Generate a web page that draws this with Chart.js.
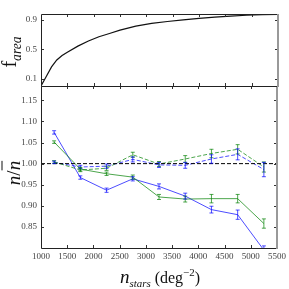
<!DOCTYPE html>
<html><head><meta charset="utf-8">
<script src="https://cdn.jsdelivr.net/npm/chart.js@4"></script>
<style>
html,body{margin:0;padding:0;background:#fff;}
#wrap{position:relative;width:289px;height:289px;overflow:hidden;background:#fff;}
.cv{position:absolute;left:0;top:0;}
.lbl{position:absolute;font-family:"Liberation Serif","DejaVu Serif",serif;color:#111;white-space:nowrap;line-height:1;}
.lbl sub,.lbl sup{font-size:68%;line-height:0;}
</style></head><body>
<div id="wrap">
<div class="cv" style="width:289px;height:289px"><canvas id="c2" width="289" height="289"></canvas></div>
<div class="cv" style="width:289px;height:100px"><canvas id="c1" width="289" height="100"></canvas></div>
<div class="lbl" id="ylab1" style="left:9px;top:52px;font-size:20px;transform:translate(-50%,-50%) rotate(-90deg);">f<sub><i>area</i></sub></div>
<div class="lbl" id="ylab2" style="left:13px;top:173px;font-size:19px;transform:translate(-50%,-50%) rotate(-90deg);"><i>n</i>/<i style="text-decoration:overline">n</i></div>
<div class="lbl" id="xlab" style="left:160px;top:276px;font-size:16px;transform:translate(-50%,-50%);"><i style="font-size:19px">n</i><sub><i>stars</i></sub> (deg<sup>−2</sup>)</div>
</div>
<script>
// ---- data ----
const areaN = [1000,1100,1200,1300,1400,1500,1700,1900,2100,2300,2500,2800,3100,3400,3700,4000,4300,4600,4900,5200,5500];
const areaF = [0.0,0.13,0.26,0.355,0.415,0.46,0.543,0.612,0.67,0.715,0.76,0.815,0.852,0.878,0.9,0.92,0.938,0.952,0.963,0.971,0.976];
const areaTicks = [0.1,0.5,0.9];

const binN = [1250,1750,2250,2750,3250,3750,4250,4750,5250];
const blueSolid = [1.074,0.967,0.937,0.964,0.946,0.923,0.891,0.879,0.795];
const blueSolidErr = [0.004,0.004,0.005,0.005,0.006,0.007,0.008,0.011,0.010];
const greenSolid = [1.051,0.987,0.976,0.968,0.921,0.916,0.917,0.917,0.858];
const greenSolidErr = [0.003,0.004,0.004,0.005,0.006,0.007,0.010,0.010,0.011];
const blueDashed = [1.003,0.992,0.994,1.010,0.997,0.996,1.011,1.022,0.986];
const blueDashedErr = [0.003,0.004,0.005,0.006,0.006,0.007,0.010,0.013,0.017];
const greenDashed = [1.004,0.985,0.989,1.021,0.999,1.011,1.024,1.034,0.992];
const greenDashedErr = [0.003,0.004,0.005,0.006,0.006,0.008,0.010,0.011,0.012];
const ratioTicks = [0.85,0.90,0.95,1.00,1.05,1.10,1.15];
const xTicks = [1000,1500,2000,2500,3000,3500,4000,4500,5000,5500];
const refLevel = 1.0;

const BLUE = 'rgba(0,0,255,0.7)';
const GREEN = 'rgba(0,128,0,0.7)';
const FONT = {family:'"Liberation Serif","DejaVu Serif",serif', size:9};
const TICKCOL = '#444';

function decor(opts){
  return {
    id:'decor',
    afterDatasetsDraw(chart){
      const ctx = chart.ctx, a = chart.chartArea, xs = chart.scales.x, ys = chart.scales.y;
      ctx.save();
      if (opts.ref !== undefined){
        ctx.beginPath();
        ctx.setLineDash([4,2]);
        ctx.strokeStyle = '#000'; ctx.lineWidth = 1;
        const yy = ys.getPixelForValue(opts.ref);
        ctx.moveTo(a.left, yy); ctx.lineTo(a.right, yy); ctx.stroke();
        ctx.setLineDash([]);
      }
      ctx.beginPath(); ctx.rect(a.left, a.top, a.right-a.left, a.bottom-a.top); ctx.clip();
      (opts.err||[]).forEach(e=>{
        ctx.strokeStyle = e.color; ctx.lineWidth = 1;
        e.vals.forEach((v,i)=>{
          const px = xs.getPixelForValue(e.x[i]);
          const y1 = ys.getPixelForValue(v - e.err[i]);
          const y2 = ys.getPixelForValue(v + e.err[i]);
          ctx.beginPath();
          ctx.moveTo(px, y1); ctx.lineTo(px, y2);
          ctx.moveTo(px-2, y1); ctx.lineTo(px+2, y1);
          ctx.moveTo(px-2, y2); ctx.lineTo(px+2, y2);
          ctx.stroke();
        });
      });
      ctx.restore();
      ctx.save();
      ctx.strokeStyle = '#333'; ctx.lineWidth = 1;
      const L = 3;
      ctx.beginPath();
      opts.xt.forEach(v=>{
        const px = Math.round(xs.getPixelForValue(v))+0.5;
        ctx.moveTo(px, a.bottom); ctx.lineTo(px, a.bottom-L);
        ctx.moveTo(px, a.top); ctx.lineTo(px, a.top+L);
      });
      opts.yt.forEach(v=>{
        const py = Math.round(ys.getPixelForValue(v))+0.5;
        ctx.moveTo(a.left, py); ctx.lineTo(a.left+L, py);
        ctx.moveTo(a.right, py); ctx.lineTo(a.right-L, py);
      });
      ctx.stroke();
      ctx.strokeStyle = '#222'; ctx.lineWidth = 1;
      ctx.beginPath();
      ctx.moveTo(a.right, a.top+0.5); ctx.lineTo(a.left+0.5, a.top+0.5);
      ctx.lineTo(a.left+0.5, a.bottom+0.5); ctx.lineTo(a.right, a.bottom+0.5);
      ctx.stroke();
      ctx.strokeStyle = '#999'; ctx.lineWidth = 2;
      ctx.beginPath(); ctx.moveTo(a.right, a.top); ctx.lineTo(a.right, a.bottom+1); ctx.stroke();
      ctx.restore();
    }
  };
}

new Chart(document.getElementById('c1'), {
  type:'line',
  data:{datasets:[{
    data: areaN.map((n,i)=>({x:n, y:areaF[i]})),
    borderColor:'#111', borderWidth:1.2, pointRadius:0, tension:0, fill:false
  }]},
  options:{
    responsive:false, animation:false,
    layout:{padding:{top:14,right:11,bottom:14,left:0}},
    plugins:{legend:{display:false}, tooltip:{enabled:false}},
    scales:{
      x:{type:'linear', min:1000, max:5500, display:false},
      y:{type:'linear', min:0, max:0.98,
         afterFit(s){ s.width = 41; },
         afterBuildTicks(s){ s.ticks = areaTicks.map(v=>({value:v})); },
         grid:{display:false, drawTicks:false}, border:{display:false},
         ticks:{font:FONT, color:TICKCOL, padding:4, callback:v=>Number(v).toFixed(1)}}
    }
  },
  plugins:[decor({xt:xTicks.slice(1,-1), yt:areaTicks})]
});

function ds(vals, color, dash){
  return {data: binN.map((n,i)=>({x:n, y:vals[i]})), borderColor:color, borderWidth:1,
          borderDash:dash, pointRadius:0, tension:0, fill:false};
}
new Chart(document.getElementById('c2'), {
  type:'line',
  data:{datasets:[
    ds(greenDashed, GREEN, [4,2]),
    ds(blueDashed, BLUE, [4,2]),
    ds(greenSolid, GREEN, []),
    ds(blueSolid, BLUE, [])
  ]},
  options:{
    responsive:false, animation:false,
    layout:{padding:{top:86,right:11,bottom:0,left:0}},
    plugins:{legend:{display:false}, tooltip:{enabled:false}},
    scales:{
      x:{type:'linear', min:1000, max:5500,
         afterFit(s){ s.height = 41; },
         afterBuildTicks(s){ s.ticks = xTicks.map(v=>({value:v})); },
         grid:{display:false, drawTicks:false}, border:{display:false},
         ticks:{font:FONT, color:TICKCOL, padding:3, maxRotation:0, autoSkip:false, callback:v=>String(v)}},
      y:{type:'linear', min:0.8, max:1.184,
         afterFit(s){ s.width = 41; },
         afterBuildTicks(s){ s.ticks = ratioTicks.map(v=>({value:v})); },
         grid:{display:false, drawTicks:false}, border:{display:false},
         ticks:{font:FONT, color:TICKCOL, padding:4, callback:v=>Number(v).toFixed(2)}}
    }
  },
  plugins:[decor({ref:refLevel, xt:xTicks.slice(1,-1), yt:ratioTicks, err:[
    {x:binN, vals:greenDashed, err:greenDashedErr, color:GREEN},
    {x:binN, vals:blueDashed, err:blueDashedErr, color:BLUE},
    {x:binN, vals:greenSolid, err:greenSolidErr, color:GREEN},
    {x:binN, vals:blueSolid, err:blueSolidErr, color:BLUE}
  ]})]
});
</script>
</body></html>
